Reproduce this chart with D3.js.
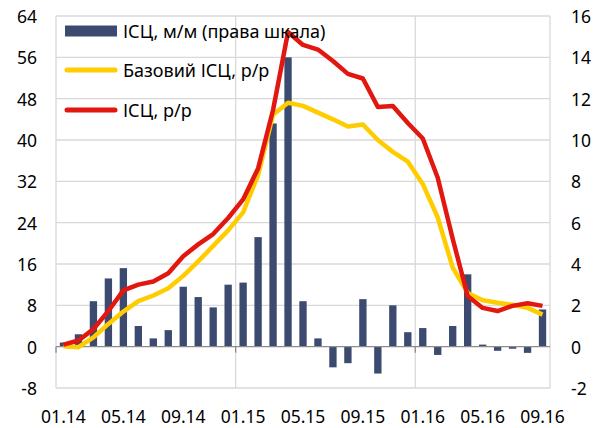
<!DOCTYPE html>
<html>
<head>
<meta charset="utf-8">
<script src="https://cdn.jsdelivr.net/npm/d3@7"></script>
<style>
  html, body { margin: 0; padding: 0; background: #fff; }
  svg { display: block; }
  text { font-family: "Noto Sans", sans-serif; fill: #000; }
</style>
</head>
<body>
<svg id="chart" width="606" height="428"></svg>
<script>
const months = ["01.14","02.14","03.14","04.14","05.14","06.14","07.14","08.14","09.14","10.14","11.14","12.14",
                "01.15","02.15","03.15","04.15","05.15","06.15","07.15","08.15","09.15","10.15","11.15","12.15",
                "01.16","02.16","03.16","04.16","05.16","06.16","07.16","08.16","09.16"];
const cpiMoM = [0.2,0.6,2.2,3.3,3.8,1.0,0.4,0.8,2.9,2.4,1.9,3.0,
                3.1,5.3,10.8,14.0,2.2,0.4,-1.0,-0.8,2.3,-1.3,2.0,0.7,
                0.9,-0.4,1.0,3.5,0.1,-0.2,-0.1,-0.3,1.8];
const coreYoY = [0.1,-0.1,1.8,4.4,6.8,8.8,9.9,11.3,13.7,16.5,19.5,22.5,
                 26.0,33.2,44.9,47.2,46.6,45.3,44.0,42.6,43.0,40.0,37.7,35.8,
                 31.5,25.0,15.3,10.4,9.0,8.5,8.1,7.5,6.2];
const cpiYoY = [0.4,1.2,3.4,6.9,10.9,12.0,12.6,14.2,17.5,19.8,21.8,24.9,
                28.5,34.5,45.8,60.9,58.4,57.5,55.3,52.8,51.9,46.4,46.6,43.3,
                40.3,32.7,20.9,9.8,7.5,6.9,7.9,8.4,7.9];
const leftTicks = [-8,0,8,16,24,32,40,48,56,64];
const rightTicks = [-2,0,2,4,6,8,10,12,14,16];
const xLabels = ["01.14","05.14","09.14","01.15","05.15","09.15","01.16","05.16","09.16"];
const legendLabels = ["ІСЦ, м/м (права шкала)", "Базовий ІСЦ, р/р", "ІСЦ, р/р"];

const colors = { bar: "#3b4a6e", core: "#ffcc00", cpi: "#e2170f", grid: "#d9d9d9", axis: "#8c8c8c" };
const L = 56, R = 550, T = 16, B = 388;

const svg = d3.select("#chart");
const x = d3.scaleBand().domain(months).range([L, R]).padding(0);
const yL = d3.scaleLinear().domain([-8, 64]).range([B, T]);
const yR = d3.scaleLinear().domain([-2, 16]).range([B, T]);
const bw = x.bandwidth();
const cx = m => x(m) + bw / 2;

// horizontal gridlines
svg.append("g").selectAll("line").data(leftTicks.filter(d => d !== 0)).join("line")
  .attr("x1", L).attr("x2", R).attr("y1", d => yL(d)).attr("y2", d => yL(d))
  .attr("stroke", colors.grid).attr("stroke-width", 1.3);
// vertical gridlines every 12 months + right border
const vIdx = [0, 12, 24];
svg.append("g").selectAll("line").data(vIdx).join("line")
  .attr("x1", d => x(months[d])).attr("x2", d => x(months[d]))
  .attr("y1", T).attr("y2", B)
  .attr("stroke", colors.grid).attr("stroke-width", 1.3);
svg.append("line").attr("x1", R).attr("x2", R).attr("y1", T).attr("y2", B)
  .attr("stroke", colors.grid).attr("stroke-width", 1.3);

// bars
svg.append("g").selectAll("rect").data(months).join("rect")
  .attr("x", (m) => cx(m) - bw * 0.245)
  .attr("width", bw * 0.49)
  .attr("y", (m, i) => yR(Math.max(0, cpiMoM[i])))
  .attr("height", (m, i) => Math.abs(yR(cpiMoM[i]) - yR(0)))
  .attr("fill", colors.bar);

// zero axis line + ticks
svg.append("line").attr("x1", L).attr("x2", R).attr("y1", yL(0)).attr("y2", yL(0))
  .attr("stroke", colors.axis).attr("stroke-width", 1.3);
svg.append("g").selectAll("line").data(vIdx).join("line")
  .attr("x1", d => x(months[d])).attr("x2", d => x(months[d]))
  .attr("y1", yL(0)).attr("y2", yL(0) + 6)
  .attr("stroke", colors.axis).attr("stroke-width", 1.3);

// lines
const lineGen = arr => d3.line().x((d, i) => cx(months[i])).y(d => yL(d))(arr);
svg.append("path").attr("d", lineGen(coreYoY)).attr("fill", "none")
  .attr("stroke", colors.core).attr("stroke-width", 4.5).attr("stroke-linejoin", "round");
svg.append("path").attr("d", lineGen(cpiYoY)).attr("fill", "none")
  .attr("stroke", colors.cpi).attr("stroke-width", 4.5).attr("stroke-linejoin", "round");

// left axis labels
svg.append("g").selectAll("text").data(leftTicks).join("text")
  .attr("x", 37).attr("y", d => yL(d)).attr("text-anchor", "end")
  .attr("dominant-baseline", "central").style("font-size", "17.5px").text(d => d);
// right axis labels
svg.append("g").selectAll("text").data(rightTicks).join("text")
  .attr("x", 571).attr("y", d => yR(d)).attr("text-anchor", "start")
  .attr("dominant-baseline", "central").style("font-size", "17.5px").text(d => d);
// x labels
svg.append("g").selectAll("text").data(xLabels).join("text")
  .attr("x", d => cx(d)).attr("y", 416).attr("text-anchor", "middle")
  .attr("dominant-baseline", "central").style("font-size", "17.5px").text(d => d);

// legend
const lg = svg.append("g");
const ly = [31, 70, 110];
lg.append("rect").attr("x", 65).attr("y", ly[0] - 5.5).attr("width", 52).attr("height", 11).attr("fill", colors.bar);
lg.append("line").attr("x1", 67).attr("x2", 115).attr("y1", ly[1]).attr("y2", ly[1])
  .attr("stroke", colors.core).attr("stroke-width", 5).attr("stroke-linecap", "round");
lg.append("line").attr("x1", 67).attr("x2", 115).attr("y1", ly[2]).attr("y2", ly[2])
  .attr("stroke", colors.cpi).attr("stroke-width", 5).attr("stroke-linecap", "round");
lg.selectAll("text").data(legendLabels).join("text")
  .attr("x", 123).attr("y", (d, i) => ly[i]).attr("dominant-baseline", "central")
  .style("font-size", "18px").text(d => d);
</script>
</body>
</html>
